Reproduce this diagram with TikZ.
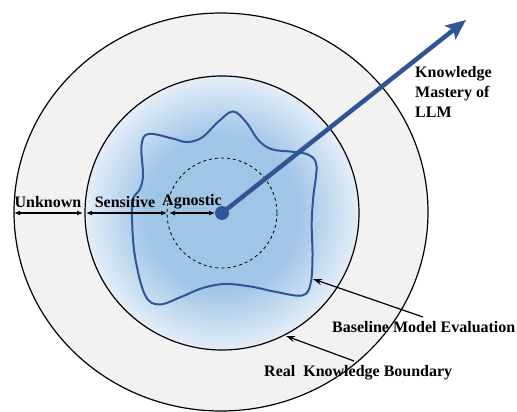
\documentclass[tikz,border=0pt]{standalone}
\usepackage{fontspec}
\setmainfont{Liberation Serif}
\usetikzlibrary{arrows.meta}
\definecolor{kblue}{RGB}{160,197,231}
\definecolor{kedge}{RGB}{228,238,248}
\definecolor{kring}{RGB}{242,242,242}
\definecolor{kdark}{RGB}{47,85,151}
\pgfdeclareradialshading{kshade}{\pgfpoint{0bp}{0bp}}{color(0bp)=(kblue); color(14bp)=(kblue); color(25bp)=(kedge); color(50bp)=(kedge)}
\begin{document}
\begin{tikzpicture}[x=1pt,y=-1pt,
  lbl/.style={font=\fontsize{16}{20}\selectfont\bfseries, inner sep=0pt},
  dim/.style={line width=1.2pt, {Latex[length=6pt,width=5pt]}-{Latex[length=6pt,width=5pt]}},
  pointer/.style={line width=1.2pt, -{Stealth[length=9pt,width=6pt]}},
  blob/.style={kdark, line width=2pt}]
\useasboundingbox (0,0) rectangle (517,412);
% outer ring
\draw[fill=kring, line width=1.2pt] (221,212) ellipse [x radius=207, y radius=199];
% inner circle
\shade[shading=kshade] (222,213) circle[radius=137];
\draw[line width=1.2pt] (222,213) circle[radius=137];
% blob
\draw[blob] plot[smooth cycle, tension=0.6] coordinates {
 (148,134) (171.7,138.3) (186.7,142) (202,137.5) (218.3,121.7) (233,111.5)
 (246,122) (258.3,140) (271.7,149.3) (291.7,151.7) (309,155) (316.5,166)
 (313.3,196.7) (311.7,223.3) (312.5,256.7) (310.5,284) (302,295.5)
 (275,291.7) (251.7,286.7) (225,284) (201.7,288.3) (181.7,296.7) (159,304.5)
 (145,295) (135,256.7) (132,218) (133,199) (140,189) (143,175) (141.5,146)};
% dashed circle
\draw[dashed, line width=0.8pt] (222,213) circle[radius=55];
% main arrow
\coordinate (c) at (222,213);
\coordinate (tip) at (466,20);
\draw[kdark, line width=4.5pt, -{Stealth[length=20pt,width=17pt,inset=4pt]}] (c) -- (tip);
\fill[kdark] (c) circle[radius=7];
% dimension arrows
\coordinate (u1) at (14,213); \coordinate (u2) at (83,213);
\coordinate (s1) at (86,213); \coordinate (s2) at (167,213);
\coordinate (a1) at (169,213); \coordinate (a2) at (215,213);
\draw[dim] (u1) -- (u2);
\draw[dim] (s1) -- (s2);
\draw[dim] (a1) -- (a2);
\node[lbl] (unk) at (48,202) {Unknown};
\node[lbl] (sen) at (125,202) {Sensitive};
\node[lbl] (agn) at (192,202) {Agnostic};
% labels
\node[lbl, anchor=west, align=left] (km) at (415,92) {Knowledge\\Mastery of\\LLM};
\node[lbl, anchor=west] (bme) at (332,327) {Baseline Model Evaluation};
\node[lbl, anchor=west] (rkb) at (264,373) {Real\ \ Knowledge Boundary};
\coordinate (b1) at (423,317); \coordinate (b2) at (313,279);
\coordinate (r1) at (354,361); \coordinate (r2) at (286,336);
\draw[pointer] (b1) -- (b2);
\draw[pointer] (r1) -- (r2);
\end{tikzpicture}
\end{document}
